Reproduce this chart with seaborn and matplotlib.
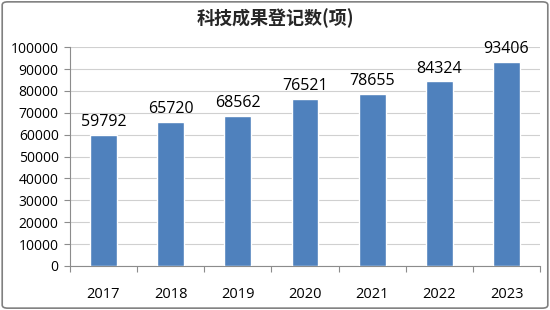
import matplotlib
matplotlib.use("Agg")
import matplotlib.pyplot as plt
import seaborn as sns
import pandas as pd
from matplotlib.patches import FancyBboxPatch

years = ["2017", "2018", "2019", "2020", "2021", "2022", "2023"]
values = [59792, 65720, 68562, 76521, 78655, 84324, 93406]
yticks = [0, 10000, 20000, 30000, 40000, 50000, 60000, 70000, 80000, 90000, 100000]
title = "科技成果登记数(项)"

sns.set_theme(style="white")
plt.rcParams['font.family'] = ['Open Sans', 'Noto Sans CJK SC', 'DejaVu Sans']

df = pd.DataFrame({"year": years, "value": values})

fig = plt.figure(figsize=(5.5, 3.1), dpi=100)
ax = fig.add_axes([0.127, 0.142, 0.855, 0.706])

sns.barplot(data=df, x="year", y="value", color="#4F81BD", saturation=1,
            width=0.4, ax=ax, zorder=3)

ax.set_ylim(0, 100000)
ax.set_xlim(-0.5, len(years) - 0.5)
ax.set_yticks(yticks)
ax.set_yticklabels([str(v) for v in yticks], fontsize=10, color="black")
ax.set_xticks(range(len(years)))
ax.set_xticklabels(years, fontsize=10.5, color="black")
ax.set_xlabel("")
ax.set_ylabel("")
ax.grid(axis="y", color="#d0d0d0", linewidth=0.8, zorder=0)
ax.grid(axis="x", visible=False)

for s in ["top", "right"]:
    ax.spines[s].set_visible(False)
for s in ["left", "bottom"]:
    ax.spines[s].set_color("#8c8c8c")
    ax.spines[s].set_linewidth(0.8)

ax.tick_params(axis="y", which="major", length=4, width=0.8, color="#8c8c8c", pad=4, left=True)
ax.tick_params(axis="x", which="major", length=0, pad=15)
ax.set_xticks([i + 0.5 for i in range(-1, len(years))], minor=True)
ax.tick_params(axis="x", which="minor", length=4, width=0.8, color="#8c8c8c", bottom=True)

for i, v in enumerate(values):
    ax.annotate(str(v), (i, v), xytext=(0, 3.5), textcoords="offset points",
                ha="center", va="bottom", fontsize=11.5, color="black")

fig.text(0.5, 0.94, title, ha="center", va="center", fontsize=13,
         fontweight="bold", family=['Noto Sans CJK SC', 'DejaVu Sans'])

border = FancyBboxPatch((0.004, 0.006), 0.992, 0.988, boxstyle="round,pad=0,rounding_size=0.01",
                        transform=fig.transFigure, fill=False, edgecolor="#808080",
                        linewidth=1.2)
fig.patches.append(border)

fig.savefig("out.png", dpi=100)
